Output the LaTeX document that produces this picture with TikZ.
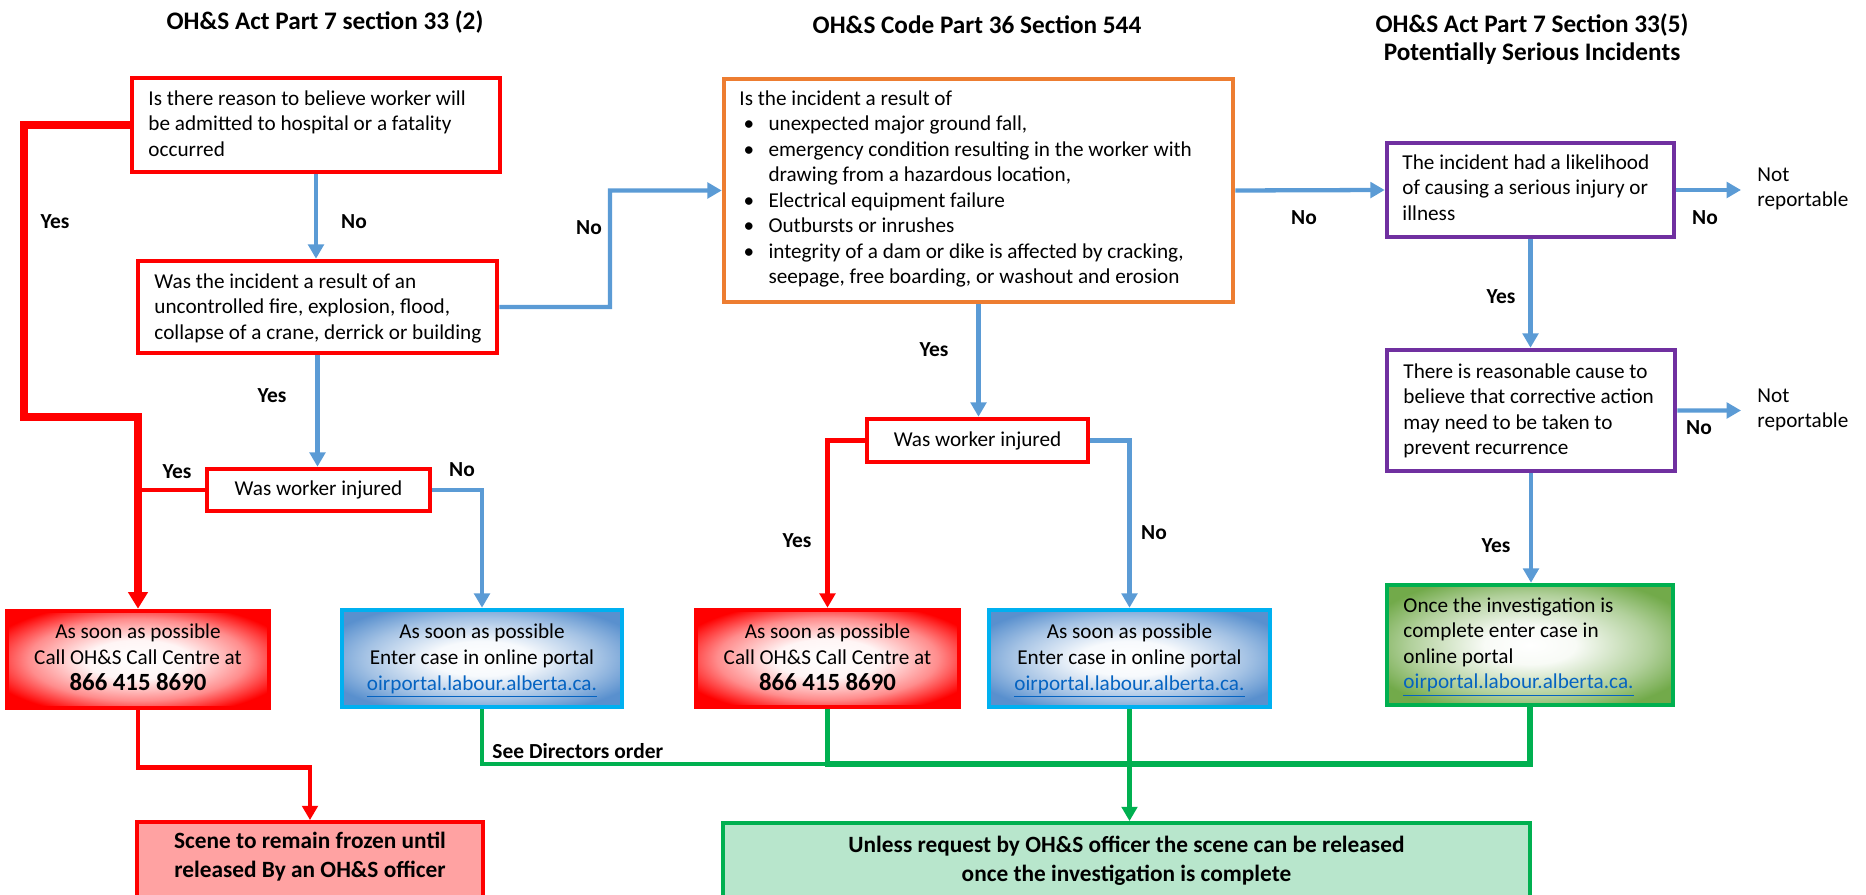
\documentclass[tikz,border=0pt]{standalone}
\usepackage{fontspec}
\setmainfont{Carlito}
\usetikzlibrary{arrows.meta,fit}
\definecolor{cRed}{HTML}{FF0000}
\definecolor{cBlue}{HTML}{5B9BD5}
\definecolor{cOrange}{HTML}{ED7D31}
\definecolor{cPurple}{HTML}{7030A0}
\definecolor{cGreen}{HTML}{00B050}
\definecolor{cSky}{HTML}{00B0F0}
\definecolor{cLink}{HTML}{0563C1}
\definecolor{cPink}{HTML}{FFA2A2}
\definecolor{cMint}{HTML}{B8E6CC}
\definecolor{cDBlue}{HTML}{5990CE}
\definecolor{cLGreen}{HTML}{72AA4A}
\pgfdeclareradialshading{redglow}{\pgfpoint{0bp}{0bp}}{color(0bp)=(white); color(10bp)=(white!96!cRed); color(21bp)=(white!55!cRed); color(30bp)=(cRed); color(50bp)=(cRed)}
\pgfdeclareradialshading{blueglow}{\pgfpoint{0bp}{0bp}}{color(0bp)=(white); color(9bp)=(white!95!cDBlue); color(21bp)=(white!45!cDBlue); color(30bp)=(cDBlue); color(50bp)=(cDBlue)}
\pgfdeclareradialshading{greenglow}{\pgfpoint{0bp}{0bp}}{color(0bp)=(white); color(8bp)=(white!95!cLGreen); color(21bp)=(white!45!cLGreen); color(30bp)=(cLGreen); color(50bp)=(cLGreen)}
\newcommand\lnk[1]{\textcolor{cLink}{\underline{#1}}}
\newcommand\bul{\hspace*{1.7pt}\makebox[10.5pt][l]{\textbullet}}
\newcommand\cont{\hspace*{12.2pt}}
\tikzset{
  box/.style={inner sep=0pt, line width=1.9pt},
  txt/.style={inner sep=0pt, font=\fontsize{8.9}{10.7}\selectfont, align=left},
  ctxt/.style={inner sep=0pt, font=\fontsize{8.9}{10.9}\selectfont, align=center},
  lbl/.style={inner sep=0pt, font=\bfseries\fontsize{9}{11}\selectfont},
  ttl/.style={inner sep=0pt, font=\bfseries\fontsize{10.6}{11.8}\selectfont, align=center},
  big/.style={inner sep=0pt, font=\bfseries\fontsize{9.8}{12}\selectfont, align=center},
  bline/.style={draw=cBlue, line width=1.8pt},
  barr/.style={bline, -{Triangle[width=6.5pt,length=6pt]}},
  rline/.style={draw=cRed, line width=1.9pt},
  rarr/.style={rline, -{Triangle[width=6.5pt,length=6pt]}},
  rthick/.style={draw=cRed, line width=3pt, -{Triangle[width=8pt,length=7pt]}},
  gline/.style={draw=cGreen, line width=1.8pt},
  garr/.style={gline, -{Triangle[width=6.5pt,length=6pt]}},
}
\begin{document}
\begin{tikzpicture}[x=0.42pt,y=-0.42pt]
\useasboundingbox (0,0) rectangle (1866,895);
\clip (0,0) rectangle (1866,895);

% titles
\node[ttl] (ttl1) at (325,22) {OH\&S Act Part 7 section 33 (2)};
\node[ttl] (ttl2) at (977,25) {OH\&S Code Part 36 Section 544};
\node[ttl] (ttl3) at (1532,39) {OH\&S Act Part 7 Section 33(5)\\Potentially Serious Incidents};

% question boxes
\node[box, draw=cRed, fit={(132,78)(500,172)}] (q1) {};
\node[txt, anchor=north west] (q1t) at (148,90) {Is there reason to believe worker will\\be admitted to hospital or a fatality\\occurred};

\node[box, draw=cRed, fit={(138,261)(497,353)}] (q2) {};
\node[txt, anchor=north west] (q2t) at (154,273) {Was the incident a result of an\\uncontrolled fire, explosion, flood,\\collapse of a crane, derrick or building};

\node[box, draw=cOrange, fit={(724,79)(1233,302)}] (q3) {};
\node[txt, anchor=north west] (q3t) at (739,90) {Is the incident a result of\\
\bul unexpected major ground fall,\\
\bul emergency condition resulting in the worker with\\
\cont drawing from a hazardous location,\\
\bul Electrical equipment failure\\
\bul Outbursts or inrushes\\
\bul integrity of a dam or dike is affected by cracking,\\
\cont seepage, free boarding, or washout and erosion};

\node[box, draw=cPurple, fit={(1387,143)(1674,237)}] (p1) {};
\node[txt, anchor=north west] (p1t) at (1402,154) {The incident had a likelihood\\of causing a serious injury or\\illness};

\node[box, draw=cPurple, fit={(1387,350)(1675,471)}] (p2) {};
\node[txt, anchor=north west] (p2t) at (1403,363) {There is reasonable cause to\\believe that corrective action\\may need to be taken to\\prevent recurrence};

\node[box, draw=cRed, fit={(207,469)(430,511)}] (w1) {};
\node[txt] (w1t) at (w1.center) {Was worker injured};
\node[box, draw=cRed, fit={(867,419)(1088,462)}] (w2) {};
\node[txt] (w2t) at (w2.center) {Was worker injured};

% action boxes
\node[box, draw=cRed, shade, shading=redglow, fit={(7,611)(269,708)}] (r1) {};
\node[ctxt, anchor=north] (r1t) at (138,623) {As soon as possible\\Call OH\&S Call Centre at\\{\bfseries\fontsize{10.4}{10.9}\selectfont 866 415 8690}};

\node[box, draw=cSky, shade, shading=blueglow, fit={(342,610)(622,707)}] (b1) {};
\node[ctxt, anchor=north] (b1t) at (482,623) {As soon as possible\\Enter case in online portal\\\lnk{oirportal.labour.alberta.ca.}};

\node[box, draw=cRed, shade, shading=redglow, fit={(696,610)(959,707)}] (r2) {};
\node[ctxt, anchor=north] (r2t) at (827.5,623) {As soon as possible\\Call OH\&S Call Centre at\\{\bfseries\fontsize{10.4}{10.9}\selectfont 866 415 8690}};

\node[box, draw=cSky, shade, shading=blueglow, fit={(989,610)(1270,707)}] (b2) {};
\node[ctxt, anchor=north] (b2t) at (1129.5,623) {As soon as possible\\Enter case in online portal\\\lnk{oirportal.labour.alberta.ca.}};

\node[box, draw=cGreen, shade, shading=greenglow, fit={(1387,585)(1673,705)}] (g1) {};
\node[txt, anchor=north west] (g1t) at (1403,597) {Once the investigation is\\complete enter case in\\online portal\\\lnk{oirportal.labour.alberta.ca.}};

% final boxes
\node[box, draw=cRed, line width=1.6pt, fill=cPink, fit={(137,822)(483,920)}] (sc) {};
\node[big, anchor=north] (sct) at (310,832) {Scene to remain frozen until\\released By an OH\&S officer};
\node[box, draw=cGreen, line width=1.6pt, fill=cMint, fit={(723,823)(1530,920)}] (un) {};
\node[big, anchor=north] (unt) at (1126.5,836) {Unless request by OH\&S officer the scene can be released\\once the investigation is complete};

% side texts
\node[txt, anchor=north west] (nr1) at (1757,167) {Not\\reportable};
\node[txt, anchor=north west] (nr2) at (1757,388) {Not\\reportable};
\coordinate (nr1a) at (1741,190);
\coordinate (nr2a) at (1741,410.5);
\coordinate (gj) at (1129.5,764);

% labels
\node[lbl] (lY1) at (55,222) {Yes};
\node[lbl] (lN1) at (354,222) {No};
\node[lbl] (lN2) at (589,228) {No};
\node[lbl] (lY2) at (272,396) {Yes};
\node[lbl] (lY3) at (177,472) {Yes};
\node[lbl] (lN3) at (462,470) {No};
\node[lbl] (lY4) at (934,350) {Yes};
\node[lbl] (lY5) at (797,541) {Yes};
\node[lbl] (lN4) at (1154,533) {No};
\node[lbl] (lN5) at (1304,218) {No};
\node[lbl] (lN6) at (1705,218) {No};
\node[lbl] (lY6) at (1501,297) {Yes};
\node[lbl] (lN7) at (1699,428) {No};
\node[lbl] (lY7) at (1496,546) {Yes};
\node[lbl, anchor=west] (sdo) at (492,751) {See Directors order};

% green connectors
\draw[gline] (b1.south) |- (gj);
\draw[gline, line width=2.2pt] (r2.south) |- (gj);
\draw[gline, line width=2.2pt] (g1.south) |- (gj);
\draw[garr] (b2.south) -- (b2.south |- un.north);

% red connectors
\draw[rthick] (q1.west) -| (24,417) -| (r1.north);
\draw[rline] (w1.west) -- (w1.west -| r1.north);
\draw[rarr] (w2.west) -| (r2.north);
\draw[rarr] (r1.south) -- ++(0,57) -| (sc.north);

% blue connectors
\draw[barr] (q1.south) -- (q1.south |- q2.north);
\draw[barr] (q2.east) -| (610,190.5) -- (q3.west);
\draw[barr] (q2.south) -- (q2.south |- w1.north);
\draw[barr] (w1.east) -| (b1.north);
\draw[barr] (q3.south) -- (q3.south |- w2.north);
\draw[barr] (w2.east) -| (b2.north);
\draw[barr] (q3.east) -- (p1.west);
\draw[barr] (p1.east) -- (nr1a);
\draw[barr] (p1.south) -- (p1.south |- p2.north);
\draw[barr] (p2.east) -- (nr2a);
\draw[barr] (p2.south) -- (p2.south |- g1.north);
\end{tikzpicture}
\end{document}
